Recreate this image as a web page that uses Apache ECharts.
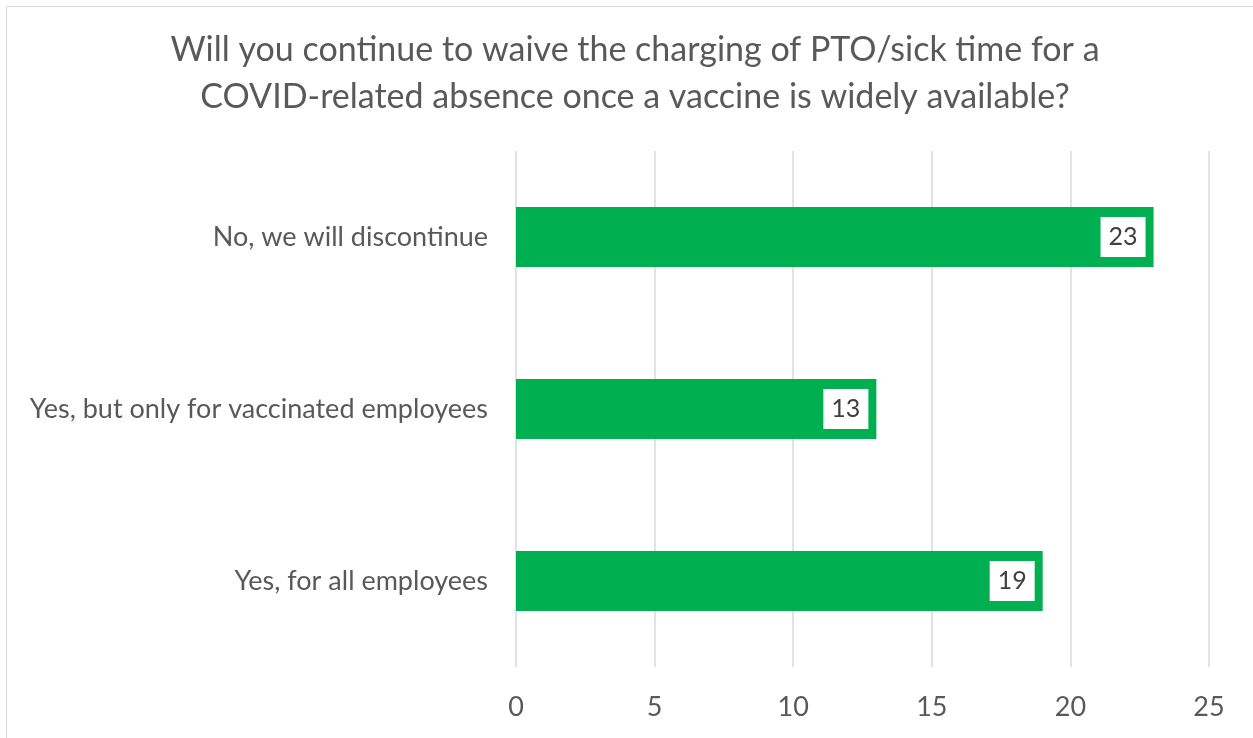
<!DOCTYPE html>
<html><head><meta charset="utf-8">
<script src="https://cdn.jsdelivr.net/npm/echarts@6/dist/echarts.min.js"></script>
<style>html,body{margin:0;padding:0;background:#fff}#c{width:1253px;height:738px}</style>
</head><body><div id="c"></div>
<script>
var titleLines = ["Will you continue to waive the charging of PTO/sick time for a", "COVID-related absence once a vaccine is widely available?"];
var categories = ["No, we will discontinue", "Yes, but only for vaccinated employees", "Yes, for all employees"];
var values = [23, 13, 19];
var axisMin = 0, axisMax = 25, axisStep = 5;

var chart = echarts.init(document.getElementById('c'), null, {renderer: 'canvas'});
chart.setOption({
  animation: false,
  backgroundColor: '#fff',
  graphic: [{type: 'rect', shape: {x: 6.5, y: 6.5, width: 1260, height: 760}, style: {fill: 'none', stroke: '#d9d9d9', lineWidth: 1}, silent: true}],
  title: {
    text: titleLines.join('\n'), left: 630, top: 22, textAlign: 'center',
    textStyle: {fontFamily: 'Lato', fontSize: 34, fontWeight: 'normal', color: '#595959', lineHeight: 47}
  },
  grid: {left: 516, right: 44, top: 151, bottom: 71, containLabel: false},
  xAxis: {
    type: 'value', min: axisMin, max: axisMax, interval: axisStep,
    axisLine: {show: false}, axisTick: {show: false},
    splitLine: {lineStyle: {color: '#d9d9d9', width: 1.5}},
    axisLabel: {fontFamily: 'Lato', fontSize: 27, color: '#595959', margin: 27}
  },
  yAxis: {
    type: 'category', data: categories, inverse: true,
    axisLine: {show: false}, axisTick: {show: false},
    axisLabel: {fontFamily: 'Lato', fontSize: 27, color: '#595959', margin: 28}
  },
  series: [{
    type: 'bar', data: values, barWidth: 60,
    itemStyle: {color: '#00b050'},
    label: {
      show: true, position: 'insideRight', distance: 8,
      backgroundColor: '#fff', padding: [8, 8, 7, 8],
      fontFamily: 'Lato', fontSize: 25, color: '#404040'
    }
  }]
});
</script></body></html>
